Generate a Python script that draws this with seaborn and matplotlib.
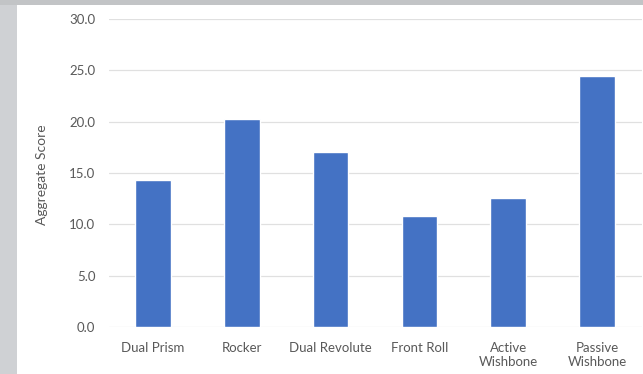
import matplotlib
matplotlib.use("Agg")
import matplotlib.pyplot as plt
import seaborn as sns
import pandas as pd
from matplotlib.patches import Rectangle

categories = ["Dual Prism", "Rocker", "Dual Revolute", "Front Roll", "Active\nWishbone", "Passive\nWishbone"]
scores = [14.3, 20.25, 17.0, 10.8, 12.6, 24.4]
yticks = [0, 5, 10, 15, 20, 25, 30]

df = pd.DataFrame({"cat": categories, "score": scores})

sns.set_theme(style="white")
plt.rcParams["font.family"] = ["Lato", "DejaVu Sans"]

fig = plt.figure(figsize=(6.43, 3.74), dpi=100)
fig.patch.set_facecolor("#cfd1d4")
fig.patches.append(Rectangle((0, 0.987), 1, 0.013, transform=fig.transFigure,
                             facecolor="#c2c4c6", edgecolor="none", zorder=-2))
fig.patches.append(Rectangle((17 / 643, 0), 1, 1 - 5 / 374, transform=fig.transFigure,
                             facecolor="white", edgecolor="none", zorder=-1))

ax = fig.add_axes([108.5 / 643, 1 - 327 / 374, 533 / 643, 308 / 374])
ax.set_facecolor("white")
sns.barplot(data=df, x="cat", y="score", color="#4472c4", saturation=1, width=0.4, ax=ax, zorder=3)

ax.set_xlim(-0.5, 5.5)
ax.set_ylim(0, 30)
ax.set_yticks(yticks)
ax.set_yticklabels([f"{v:.1f}" for v in yticks])
ax.grid(axis="y", color="#e0e0e0", linewidth=0.9, zorder=0)
ax.set_axisbelow(True)
for s in ax.spines.values():
    s.set_visible(False)
ax.tick_params(axis="y", length=0, pad=9.5, labelsize=9.5, labelcolor="#595959")
ax.tick_params(axis="x", length=0, pad=11, labelsize=9.5, labelcolor="#595959")
ax.set_xlabel("")
ax.set_ylabel("Aggregate Score", fontsize=10, color="#595959")
ax.yaxis.set_label_coords((48 - 108.5) / 533, (327 - 175) / 308)

fig.savefig("out.png", dpi=100, facecolor=fig.get_facecolor())
